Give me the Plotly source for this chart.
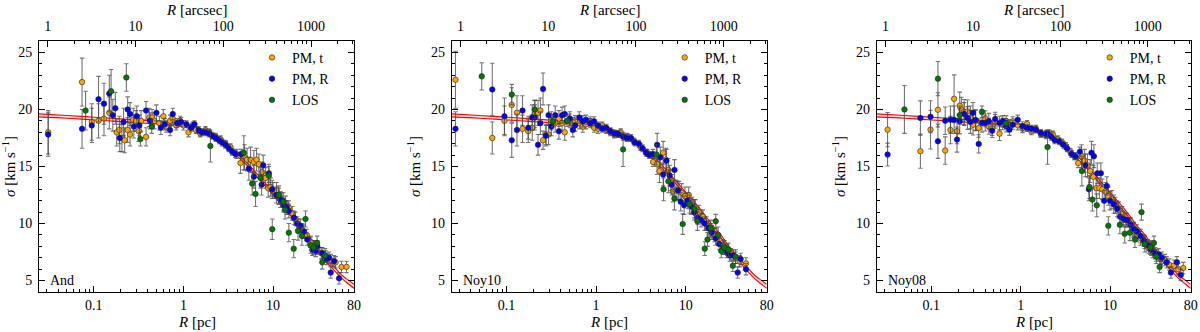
import plotly.graph_objects as go

# ---- model band (same in every panel) ----
MODEL_R = [0.0245, 0.05, 0.1, 0.2, 0.3, 0.5, 0.7, 1.0, 1.5, 2.0, 3.0, 4.0, 5.0, 6.0, 7.0,
           8.0, 10.0, 12.0, 15.0, 20.0, 25.0, 30.0, 40.0, 50.0, 60.0, 70.0, 80.0]
MODEL_LO = [19.35, 19.23, 19.08, 18.93, 18.83, 18.73, 18.63, 18.48, 18.03, 17.58, 16.78, 15.88, 15.18, 14.47,
            13.87, 13.37, 12.47, 11.77, 10.87, 9.57, 8.66, 7.76, 6.6, 5.75, 5.1, 4.68, 4.33]
MODEL_HI = [19.61, 19.47, 19.32, 19.17, 19.07, 18.97, 18.87, 18.72, 18.27, 17.82, 17.02, 16.12, 15.42, 14.73,
            14.13, 13.63, 12.73, 12.03, 11.13, 9.83, 8.94, 8.04, 6.9, 6.05, 5.4, 5.02, 4.67]

# ---- panel 1: And ----
AND_T_R = [0.031, 0.074, 0.095, 0.113, 0.13, 0.149, 0.18, 0.193, 0.206, 0.221, 0.239, 0.254, 0.276, 0.296, 0.317,
           0.337, 0.383, 0.417, 0.447, 0.474, 0.54, 0.597, 0.64, 0.71, 0.76, 0.83, 0.92, 1.0, 1.14, 1.27, 1.38, 1.54,
           1.76, 1.92, 2.28, 2.59, 2.94, 3.35, 3.91, 4.33, 4.81, 5.14, 5.61, 6.11, 6.54, 6.95, 7.57, 8.25, 8.83, 9.38,
           10.0, 10.9, 11.6, 12.6, 13.8, 15.0, 16.4, 17.8, 19.4, 21.2, 23.7, 26.2, 28.6, 31.2, 34.5, 38.6, 43.9, 49.9,
           58, 66]
AND_T_S = [18.0, 22.4, 18.9, 19.0, 19.2, 19.7, 18.0, 18.2, 17.5, 17.3, 18.2, 17.8, 19.1, 19.0, 18.1,
           19.0, 17.6, 19.3, 19.3, 19.0, 18.8, 19.4, 18.5, 19.0, 19.2, 18.6, 19.0, 18.6, 18.0, 18.6, 18.2, 17.9,
           18.2, 18.0, 17.6, 17.4, 17.0, 16.7, 16.1, 15.3, 15.8, 15.6, 15.6, 15.4, 15.6, 15.2, 14.5, 14.0, 13.1, 13.2,
           12.9, 12.9, 12.4, 12.1, 11.8, 11.4, 10.9, 10.4, 9.8, 9.4, 9.0, 8.4, 8.0, 7.8, 7.4, 7.1, 6.8, 6.6,
           6.2, 6.2]
AND_T_E = [1.9, 2.1, 1.6, 1.5, 1.5, 1.4, 1.2, 1.2, 1.2, 1.1, 1.1, 1.0, 1.0, 0.9, 0.9,
           0.9, 0.8, 0.8, 0.7, 0.7, 0.6, 0.6, 0.5, 0.5, 0.5, 0.4, 0.4, 0.4, 0.4, 0.3, 0.3, 0.3,
           0.3, 0.3, 0.3, 0.3, 0.3, 0.3, 0.4, 0.9, 1.1, 1.0, 1.1, 1.0, 1.0, 0.9, 0.9, 0.9, 0.8, 0.8,
           0.7, 0.7, 0.7, 0.6, 0.6, 0.6, 0.6, 0.6, 0.6, 0.6, 0.5, 0.5, 0.5, 0.5, 0.5, 0.5, 0.5, 0.5,
           0.5, 0.5]
AND_R_R = [0.031, 0.074, 0.095, 0.113, 0.13, 0.149, 0.163, 0.174, 0.195, 0.215, 0.239, 0.254, 0.28, 0.302, 0.322,
           0.383, 0.424, 0.5, 0.56, 0.62, 0.71, 0.76, 0.85, 0.94, 1.08, 1.22, 1.33, 1.48, 1.6, 1.75,
           1.95, 2.1, 2.3, 2.5, 2.7, 2.95, 3.2, 3.5, 3.8, 4.41, 5.37, 6.11, 7.45, 7.77, 8.98,
           9.8, 10.9, 12.1, 13.2, 14.2, 15.0, 17.1, 18.6, 20.3, 22.1, 24.1, 27.4, 29.9, 31.2, 35.4,
           39.6, 42.1, 44.0, 47.9, 54.5]
AND_R_S = [17.8, 18.3, 18.6, 20.9, 20.5, 21.4, 19.5, 20.1, 17.5, 18.9, 20.0, 19.6, 18.5, 19.4, 18.6,
           19.9, 19.0, 19.7, 18.4, 18.7, 18.2, 19.6, 18.8, 18.9, 18.7, 18.4, 18.7, 18.2, 18.0, 18.0,
           17.9, 17.7, 17.5, 17.3, 17.1, 16.9, 16.6, 16.3, 16.1, 16.1, 14.8, 14.1, 13.4, 15.1, 14.4,
           13.0, 12.5, 12.1, 11.6, 11.4, 11.1, 10.5, 10.0, 9.8, 9.3, 8.6, 7.7, 7.6, 8.0, 7.4,
           6.9, 7.0, 5.7, 6.7, 5.2]
AND_R_E = [1.9, 1.7, 1.5, 2.0, 1.8, 1.6, 1.4, 1.4, 1.2, 1.2, 1.1, 1.0, 1.0, 0.9, 0.9,
           0.8, 0.7, 0.7, 0.6, 0.5, 0.5, 0.5, 0.4, 0.4, 0.3, 0.3, 0.3, 0.3, 0.3, 0.3,
           0.3, 0.3, 0.3, 0.3, 0.3, 0.3, 0.3, 0.3, 0.3, 0.4, 1.0, 1.0, 0.9, 0.9, 0.8,
           0.8, 0.7, 0.7, 0.6, 0.6, 0.6, 0.6, 0.6, 0.6, 0.6, 0.5, 0.5, 0.5, 0.5, 0.5,
           0.5, 0.5, 0.5, 0.5, 0.5]
AND_L_R = [0.081, 0.156, 0.231, 0.331, 0.443, 2.0, 4.72, 5.85, 6.38, 7.25, 8.98, 9.8, 11.6, 13.0, 13.6,
           15.0, 17.0, 19.0, 21.0, 23.0, 26.2, 28.3, 31.0, 35.4, 38]
AND_L_S = [19.9, 21.6, 22.8, 17.4, 18.5, 16.8, 16.2, 13.5, 12.6, 14.0, 14.2, 9.5, 12.5, 11.9, 11.2,
           9.2, 7.8, 9.35, 8.9, 10.4, 8.1, 7.9, 8.3, 6.6, 7.2]
AND_L_E = [1.7, 1.9, 1.2, 0.6, 0.6, 1.4, 1.5, 1.0, 1.1, 0.9, 0.8, 0.9, 0.8, 0.8, 0.8,
           0.8, 0.8, 0.8, 0.8, 0.7, 0.7, 0.6, 0.6, 0.6, 0.6]

# ---- panel 2: Noy10 ----
N10_T_R = [0.027, 0.0695, 0.095, 0.1146, 0.131, 0.151, 0.175, 0.194, 0.207, 0.225, 0.239, 0.256, 0.276, 0.295, 0.317,
           0.35, 0.385, 0.418, 0.447, 0.51, 0.55, 0.584, 0.65, 0.71, 0.77, 0.86, 0.95, 1.05, 1.17, 1.30, 1.44,
           1.60, 1.77, 1.88, 2.23, 2.64, 3.13, 3.71, 4.32, 4.8, 5.1, 5.6, 6.0, 6.4, 6.8, 7.2, 7.8, 8.4, 9.0,
           9.8, 10.8, 11.8, 12.8, 14.0, 15.5, 17.0, 19.0, 21.0, 23.5, 26.0, 29.0, 32.0, 36.0, 40.0, 47.0]
N10_T_S = [22.6, 17.5, 19.0, 20.4, 19.7, 18.3, 18.1, 18.4, 19.6, 19.7, 19.9, 17.3, 17.8, 17.8, 19.0,
           18.8, 19.2, 18.8, 18.0, 19.0, 18.7, 18.96, 18.8, 18.5, 18.7, 18.96, 18.4, 18.3, 18.6, 18.2, 18.0,
           17.8, 17.85, 18.0, 17.6, 17.2, 16.7, 16.2, 15.4, 15.2, 14.6, 16.2, 15.6, 14.7, 13.8, 12.8, 12.9, 12.9, 12.7,
           12.4, 12.5, 11.6, 11.4, 11.0, 10.6, 10.0, 9.4, 9.0, 8.6, 8.1, 7.7, 7.3, 7.0, 6.7, 6.5]
N10_T_E = [2.5, 1.4, 1.3, 1.5, 1.5, 1.2, 1.0, 1.1, 1.2, 1.1, 1.1, 0.8, 0.9, 0.9, 0.8,
           0.8, 0.7, 0.7, 0.7, 0.6, 0.6, 0.5, 0.5, 0.5, 0.4, 0.4, 0.4, 0.4, 0.3, 0.3, 0.3,
           0.3, 0.3, 0.3, 0.3, 0.3, 0.3, 0.3, 0.4, 0.9, 1.0, 1.0, 1.0, 1.0, 0.9, 0.9, 0.9, 0.8, 0.8,
           0.8, 0.7, 0.7, 0.7, 0.6, 0.6, 0.6, 0.6, 0.6, 0.5, 0.5, 0.5, 0.5, 0.5, 0.5, 0.5]
N10_R_R = [0.027, 0.0695, 0.095, 0.1146, 0.131, 0.151, 0.175, 0.194, 0.207, 0.225, 0.239, 0.256, 0.276, 0.295, 0.317,
           0.35, 0.385, 0.418, 0.447, 0.51, 0.55, 0.584, 0.65, 0.71, 0.77, 0.86, 0.95, 1.05, 1.17, 1.30, 1.44,
           1.60, 1.77, 2.0, 2.2, 2.45, 2.7, 3.0, 3.3, 3.6, 3.9, 4.3, 4.8, 5.2, 5.6, 6.1, 6.6, 7.0, 7.5,
           8.2, 8.8, 9.6, 10.5, 11.5, 12.5, 13.6, 14.8, 16.2, 17.8, 19.5, 21.5, 23.6, 26.0, 28.5, 31.0,
           34.0, 38.0, 41.0, 47.0]
N10_R_S = [18.3, 21.75, 19.4, 17.3, 18.2, 19.9, 18.4, 19.3, 19.3, 16.9, 18.8, 21.8, 17.7, 19.5, 18.5,
           19.5, 18.1, 19.5, 19.6, 19.2, 18.2, 18.6, 19.3, 18.96, 19.1, 18.8, 18.96, 18.6, 18.3, 18.4, 18.1,
           17.9, 17.85, 17.6, 17.5, 17.5, 17.1, 17.0, 16.6, 16.2, 16.0, 16.1, 16.9, 15.8, 14.3, 15.5, 14.2, 13.4, 14.7,
           12.9, 11.9, 11.6, 12.0, 11.5, 11.0, 10.5, 10.3, 10.0, 9.6, 9.2, 8.7, 8.2, 7.8, 7.5, 7.2,
           7.2, 5.7, 6.9, 6.0]
N10_R_E = [1.5, 2.3, 1.6, 1.5, 1.4, 1.3, 1.0, 1.1, 1.1, 0.9, 1.0, 1.4, 0.9, 0.9, 0.8,
           0.8, 0.7, 0.7, 0.7, 0.6, 0.6, 0.5, 0.5, 0.5, 0.4, 0.4, 0.4, 0.3, 0.3, 0.3, 0.3,
           0.3, 0.3, 0.3, 0.3, 0.3, 0.3, 0.3, 0.3, 0.3, 0.3, 0.4, 1.0, 0.9, 1.0, 1.0, 0.9, 0.9, 0.9,
           0.8, 0.8, 0.8, 0.7, 0.7, 0.7, 0.6, 0.6, 0.6, 0.6, 0.6, 0.6, 0.5, 0.5, 0.5, 0.5,
           0.5, 0.5, 0.5, 0.5]
N10_L_R = [0.053, 0.1146, 0.207, 0.33, 0.475, 2.0, 4.7, 5.66, 6.4, 7.48, 9.25, 11.0, 12.5, 13.5, 16.3,
           17.5, 19.0, 21.6, 23.0, 24.9, 27.0, 30.0, 33.5, 36.0]
N10_L_S = [22.9, 21.3, 20.0, 18.96, 19.0, 16.5, 16.05, 13.0, 13.7, 12.2, 9.95, 11.7, 11.3, 10.2, 7.8,
           8.6, 9.6, 10.2, 9.0, 7.6, 7.9, 7.7, 6.3, 7.1]
N10_L_E = [1.2, 0.9, 0.8, 0.5, 0.5, 1.5, 0.9, 1.0, 1.0, 1.0, 0.9, 0.8, 0.8, 0.8, 0.6,
           0.6, 0.7, 0.6, 0.7, 0.6, 0.6, 0.6, 0.5, 0.6]

# ---- panel 3: Noy08 ----
N08_T_R = [0.0324, 0.0755, 0.098, 0.1186, 0.143, 0.164, 0.18, 0.194, 0.208, 0.217, 0.233, 0.254, 0.274, 0.293, 0.313,
           0.339, 0.402, 0.44, 0.48, 0.519, 0.58, 0.63, 0.687, 0.748, 0.815, 0.927, 1.05, 1.18, 1.32, 1.48, 1.68,
           1.91, 2.1, 2.3, 2.6, 2.9, 3.2, 3.6, 4.0, 4.4, 4.8, 5.2, 5.6, 6.0, 6.5, 7.0, 7.6, 8.2, 8.9,
           9.6, 10.5, 11.5, 12.5, 13.7, 15.0, 16.5, 18.0, 20.0, 22.0, 24.5, 27.0, 30.0, 33.0, 37.0, 41.0,
           46.0, 52.0, 58.0, 66.0]
N08_T_S = [18.23, 16.34, 18.23, 19.97, 16.4, 18.2, 20.93, 18.1, 20.32, 19.97, 19.77, 19.83, 19.3, 18.66, 19.04,
           18.37, 19.19, 18.52, 18.32, 18.96, 17.88, 18.72, 18.96, 18.61, 18.96, 18.61, 18.37, 18.72, 18.08, 18.32, 17.85,
           17.73, 17.9, 17.8, 17.4, 17.1, 16.8, 16.3, 15.9, 15.3, 15.9, 15.5, 15.1, 14.6, 14.1, 13.1, 13.1, 13.0, 12.8,
           12.4, 12.1, 11.6, 11.2, 10.8, 10.3, 9.9, 9.4, 9.0, 8.7, 8.3, 7.9, 7.5, 7.2, 6.9, 6.8,
           6.4, 6.3, 6.0, 6.1]
N08_T_E = [1.5, 1.5, 1.7, 1.5, 1.2, 1.2, 2.1, 1.1, 1.2, 1.1, 1.1, 1.0, 1.0, 0.9, 0.9,
           0.8, 0.7, 0.7, 0.6, 0.6, 0.6, 0.5, 0.5, 0.5, 0.4, 0.4, 0.4, 0.3, 0.3, 0.3, 0.3,
           0.3, 0.3, 0.3, 0.3, 0.3, 0.3, 0.3, 0.3, 0.4, 1.0, 1.0, 1.0, 1.0, 1.0, 0.9, 0.9, 0.9, 0.8,
           0.8, 0.8, 0.7, 0.7, 0.7, 0.6, 0.6, 0.6, 0.6, 0.6, 0.5, 0.5, 0.5, 0.5, 0.5, 0.5,
           0.5, 0.5, 0.5, 0.5]
N08_R_R = [0.0324, 0.0755, 0.098, 0.1186, 0.143, 0.164, 0.18, 0.194, 0.208, 0.233, 0.254, 0.274, 0.293, 0.313,
           0.339, 0.369, 0.402, 0.44, 0.48, 0.519, 0.58, 0.63, 0.687, 0.748, 0.815, 0.927, 1.05, 1.18, 1.32, 1.48,
           1.68, 1.91, 2.0, 2.2, 2.4, 2.7, 3.0, 3.3, 3.7, 4.1, 4.6, 5.3, 5.8, 6.2, 6.6, 7.2, 7.9, 8.6, 9.2,
           10.0, 11.0, 12.0, 13.0, 14.2, 15.5, 17.0, 18.5, 20.0, 22.0, 24.0, 26.5, 29.0, 32.0, 35.0, 38.0,
           43.0, 48.0, 56.0, 62.0]
N08_R_S = [16.05, 19.25, 19.36, 17.21, 19.01, 19.1, 19.1, 17.36, 18.96, 19.6, 19.25, 18.9, 19.71, 19.07,
           16.98, 18.81, 18.81, 18.96, 18.14, 19.16, 18.81, 18.96, 18.52, 18.23, 18.66, 19.1, 18.52, 18.37, 18.32, 18.23,
           17.94, 17.85, 17.9, 17.6, 17.3, 17.2, 16.9, 16.6, 16.1, 15.9, 16.3, 15.1, 13.0, 16.2, 15.9, 14.4, 14.4, 12.0, 13.3,
           12.0, 11.7, 11.3, 10.6, 10.4, 10.3, 9.9, 9.5, 9.3, 8.9, 8.5, 8.1, 7.7, 7.4, 7.3, 7.0,
           6.6, 5.7, 6.6, 5.5]
N08_R_E = [1.0, 1.5, 1.4, 1.5, 1.2, 1.2, 1.2, 1.1, 1.1, 1.0, 1.0, 1.0, 0.9, 0.9,
           0.8, 0.8, 0.7, 0.7, 0.6, 0.6, 0.6, 0.5, 0.5, 0.5, 0.4, 0.4, 0.4, 0.3, 0.3, 0.3,
           0.3, 0.3, 0.3, 0.3, 0.3, 0.3, 0.3, 0.3, 0.3, 0.3, 0.4, 1.0, 1.0, 1.0, 1.0, 0.9, 0.9, 0.9, 0.8,
           0.8, 0.8, 0.7, 0.7, 0.7, 0.6, 0.6, 0.6, 0.6, 0.6, 0.5, 0.5, 0.5, 0.5, 0.5, 0.5,
           0.5, 0.5, 0.5, 0.5]
N08_L_R = [0.05, 0.1186, 0.208, 0.369, 0.687, 2.0, 4.84, 5.89, 6.35, 7.1, 9.57, 12.9, 14.6, 16.7, 19.0,
           22.5, 24.5, 28.3, 31.0, 33.0, 35.9]
N08_L_S = [20.0, 22.7, 19.5, 19.8, 18.8, 16.7, 14.6, 13.2, 12.1, 11.6, 9.8, 9.9, 9.1, 9.2, 8.6,
           11.0, 8.2, 7.9, 8.3, 7.1, 6.2]
N08_L_E = [2.1, 1.5, 0.8, 0.5, 0.4, 1.5, 1.3, 1.0, 1.0, 1.0, 0.8, 0.8, 0.8, 0.7, 0.7,
           0.7, 0.7, 0.6, 0.6, 0.6, 0.5]

PANELS = [
    ("And", (AND_T_R, AND_T_S, AND_T_E), (AND_R_R, AND_R_S, AND_R_E), (AND_L_R, AND_L_S, AND_L_E)),
    ("Noy10", (N10_T_R, N10_T_S, N10_T_E), (N10_R_R, N10_R_S, N10_R_E), (N10_L_R, N10_L_S, N10_L_E)),
    ("Noy08", (N08_T_R, N08_T_S, N08_T_E), (N08_R_R, N08_R_S, N08_R_E), (N08_L_R, N08_L_S, N08_L_E)),
]
SERIES = [("PM, t", "#ffa500"), ("PM, R", "#0000ff"), ("LOS", "#007a00")]

DOMAINS = [(0.0325, 0.295), (0.3764, 0.6389), (0.7306, 0.99225)]
YDOM = [0.1205, 0.8765]
FONT = "Liberation Serif"

fig = go.Figure()

pc_minor = [k * 10.0 ** e for e in (-2, -1, 0, 1) for k in range(2, 10)]
as_minor = [k * 10.0 ** e for e in (0, 1, 2, 3) for k in range(2, 10)]

for i, (name, *series) in enumerate(PANELS):
    n = i + 1
    xb = "x" if n == 1 else f"x{n}"
    yb = "y" if n == 1 else f"y{n}"
    leg = "legend" if n == 1 else f"legend{n}"

    # model band
    fig.add_trace(go.Scatter(x=MODEL_R, y=MODEL_LO, mode="lines", line=dict(color="red", width=1.1, shape="spline"),
                             xaxis=xb, yaxis=yb, showlegend=False, hoverinfo="skip"))
    fig.add_trace(go.Scatter(x=MODEL_R, y=MODEL_HI, mode="lines", line=dict(color="red", width=1.1, shape="spline"),
                             fill="tonexty", fillcolor="rgba(255,190,190,0.55)",
                             xaxis=xb, yaxis=yb, showlegend=False, hoverinfo="skip"))

    for (lab, col), (r, s, e) in zip(SERIES, series):
        fig.add_trace(go.Scatter(
            x=r, y=s, mode="markers", name=lab, legend=leg,
            marker=dict(color=col, size=5.5, line=dict(color="#222", width=0.6)),
            error_y=dict(type="data", array=e, color="rgba(70,70,70,0.75)", thickness=1.1, width=2.2),
            xaxis=xb, yaxis=yb,
        ))

    # empty trace so the secondary (arcsec) axis gets drawn
    fig.add_trace(go.Scatter(x=[], y=[], xaxis=f"x{n + 3}", yaxis=yb, showlegend=False, hoverinfo="skip"))

    d0, d1 = DOMAINS[i]
    axfont = dict(family=FONT, size=14, color="black")
    common_x = dict(type="log", showgrid=False, zeroline=False, showline=True, linecolor="black", linewidth=1,
                    ticks="inside", ticklen=6, tickcolor="black", tickfont=axfont, automargin=False,
                    domain=[d0, d1])
    fig.layout[f"xaxis{'' if n == 1 else n}"] = dict(
        common_x, anchor=yb, side="bottom", range=[-1.611, 1.903],
        tickvals=[0.1, 1, 10, 80], ticktext=["0.1", "1", "10", "80"],
        minor=dict(tickvals=pc_minor, ticks="inside", ticklen=3, tickcolor="black"),
        ticklabelstandoff=0,
    )
    fig.layout[f"xaxis{n + 3}"] = dict(
        common_x, anchor=yb, overlaying=xb, side="top", range=[-0.1, 3.49],
        tickvals=[1, 10, 100, 1000], ticktext=["1", "10", "100", "1000"],
        minor=dict(tickvals=as_minor, ticks="inside", ticklen=3, tickcolor="black"),
        ticklabelstandoff=3,
    )
    fig.layout[f"yaxis{'' if n == 1 else n}"] = dict(
        anchor=xb, domain=YDOM, range=[4, 26], showgrid=False, zeroline=False,
        showline=True, linecolor="black", linewidth=1, mirror="ticks",
        ticks="inside", ticklen=6, tickcolor="black", tickvals=[5, 10, 15, 20, 25],
        minor=dict(dtick=1, tick0=0, ticks="inside", ticklen=3, tickcolor="black"),
        tickfont=axfont, automargin=False, ticklabelstandoff=3,
        title=dict(text="<i>σ</i> [km s<sup>−1</sup>]", font=dict(family=FONT, size=15), standoff=6),
    )
    fig.layout[leg] = dict(x=d0 + 213 / 1200, y=0.874, xanchor="left", yanchor="top", traceorder="normal",
                           bgcolor="rgba(0,0,0,0)", font=dict(family=FONT, size=14, color="black"),
                           itemwidth=30, tracegroupgap=0)
    fig.add_annotation(text=name, xref=f"{xb} domain", yref=f"{yb} domain", x=0.03, y=0.045,
                       xanchor="left", yanchor="middle", showarrow=False,
                       font=dict(family=FONT, size=14, color="black"))
    # x-axis titles (bottom: pc, top: arcsec)
    mid = (d0 + d1) / 2
    fig.add_annotation(text="<i>R</i> [pc]", xref="paper", yref="paper", x=mid, y=0.0,
                       xanchor="center", yanchor="bottom", showarrow=False,
                       font=dict(family=FONT, size=15, color="black"))
    fig.add_annotation(text="<i>R</i> [arcsec]", xref="paper", yref="paper", x=mid, y=0.97,
                       xanchor="center", yanchor="middle", showarrow=False,
                       font=dict(family=FONT, size=15, color="black"))

fig.update_layout(width=1200, height=332, margin=dict(l=0, r=0, t=0, b=0),
                  paper_bgcolor="white", plot_bgcolor="white", font=dict(family=FONT, color="black"))

# drop the browser's default 8px body margin so the figure sits at the window origin
fig.write_html("out.html", config={"displayModeBar": False},
               post_script="document.body.style.margin='0';")
